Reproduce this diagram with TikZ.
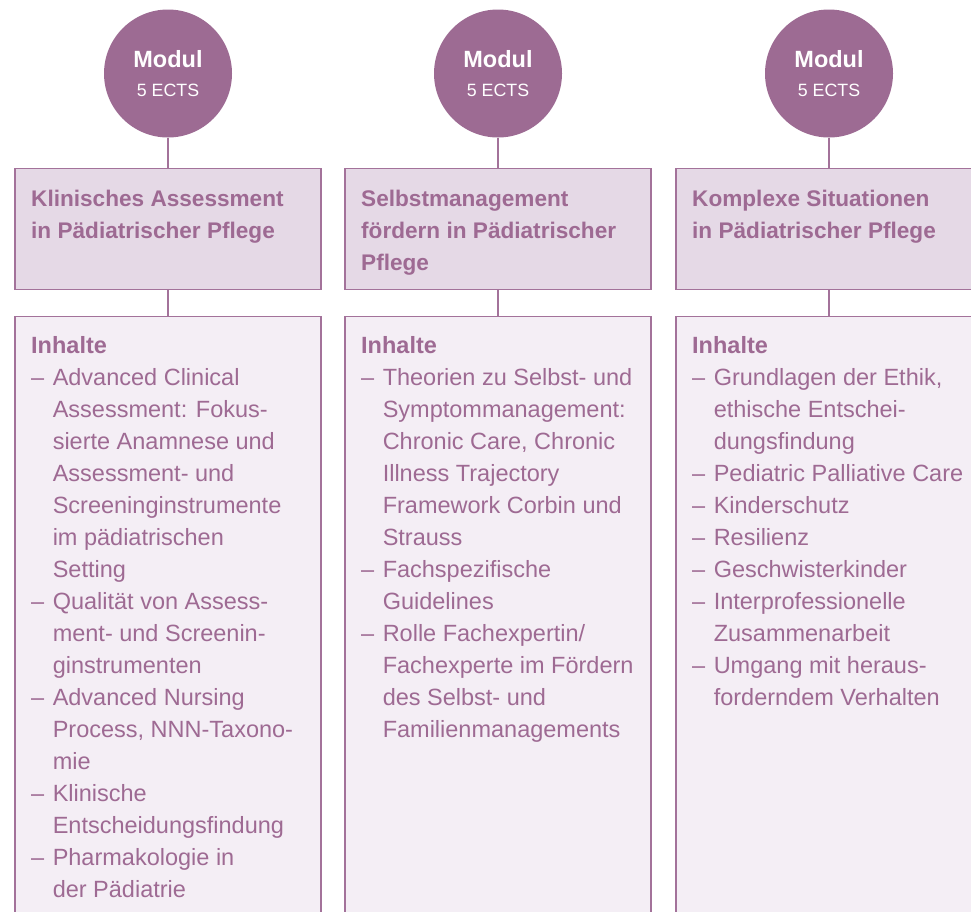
\documentclass[tikz,border=0pt]{standalone}
\usepackage{fontspec}
\setmainfont{Liberation Sans}
\usetikzlibrary{positioning}

\definecolor{modullila}{HTML}{9D6B93}
\definecolor{randlila}{HTML}{A3729A}
\definecolor{titellila}{HTML}{E5D9E6}
\definecolor{inhaltlila}{HTML}{F4EEF5}
\definecolor{textlila}{HTML}{9E6A93}

\tikzset{
  modul/.style={circle, fill=modullila, draw=none, minimum size=128pt, inner sep=0pt, outer sep=0pt,
    text=white, font=\fontsize{23.5}{29}\selectfont},
  titelbox/.style={rectangle, draw=randlila, line width=1.8pt, fill=titellila,
    minimum width=306pt, minimum height=121pt, outer sep=0pt},
  inhaltbox/.style={rectangle, draw=randlila, line width=1.8pt, fill=inhaltlila,
    minimum width=306pt, minimum height=640pt, outer sep=0pt},
  titeltext/.style={anchor=north west, inner sep=0pt, text=textlila,
    font=\bfseries\fontsize{22.6}{32}\selectfont},
  inhalttext/.style={anchor=north west, inner sep=0pt, text=textlila,
    font=\fontsize{23.5}{32}\selectfont},
  verbinder/.style={draw=randlila, line width=1.8pt}
}

\newcommand{\modultext}{\begin{tabular}{@{}c@{}}\rule{0pt}{26pt}\textbf{Modul}\\{\fontsize{17.8}{29}\selectfont 5 ECTS}\end{tabular}}

\begin{document}
\begin{tikzpicture}[x=1pt,y=1pt]
  \useasboundingbox (0,0) rectangle (971,-911);
  \clip (0,0) rectangle (971,-911);

  % Module oben
  \node[modul] (m1) at (168,-73.5) {\modultext};
  \node[modul] (m2) at (498,-73.5) {\modultext};
  \node[modul] (m3) at (829,-73.5) {\modultext};

  % Titel
  \node[titelbox, below=31pt of m1] (t1) {};
  \node[titelbox, below=31pt of m2] (t2) {};
  \node[titelbox, below=31pt of m3] (t3) {};

  % Inhalte
  \node[inhaltbox, below=27pt of t1] (i1) {};
  \node[inhaltbox, below=27pt of t2] (i2) {};
  \node[inhaltbox, below=27pt of t3] (i3) {};

  \draw[verbinder] (m1) -- (t1) (t1) -- (i1);
  \draw[verbinder] (m2) -- (t2) (t2) -- (i2);
  \draw[verbinder] (m3) -- (t3) (t3) -- (i3);

  \node[titeltext] (tt1) at ([xshift=16pt,yshift=-15pt]t1.north west)
    {\begin{tabular}{@{}l@{}}Klinisches Assessment\\in Pädiatrischer Pflege\end{tabular}};
  \node[titeltext] (tt2) at ([xshift=16pt,yshift=-15pt]t2.north west)
    {\begin{tabular}{@{}l@{}}Selbstmanagement\\fördern in Pädiatrischer\\Pflege\end{tabular}};
  \node[titeltext] (tt3) at ([xshift=16pt,yshift=-15pt]t3.north west)
    {\begin{tabular}{@{}l@{}}Komplexe Situationen\\in Pädiatrischer Pflege\end{tabular}};

  \node[inhalttext] (it1) at ([xshift=16pt,yshift=-14.5pt]i1.north west)
    {\begin{tabular}{@{}l@{\hspace{8.5pt}}l@{}}
      \multicolumn{2}{@{}l@{}}{\textbf{Inhalte}}\\
      \textendash & Advanced Clinical\\
       & Assessment: Fokus-\\
       & sierte Anamnese und\\
       & Assessment- und\\
       & Screeninginstrumente\\
       & im pädiatrischen\\
       & Setting\\
      \textendash & Qualität von Assess-\\
       & ment- und Screenin-\\
       & ginstrumenten\\
      \textendash & Advanced Nursing\\
       & Process, NNN-Taxono-\\
       & mie\\
      \textendash & Klinische\\
       & Entscheidungsfindung\\
      \textendash & Pharmakologie in\\
       & der Pädiatrie
    \end{tabular}};
  \node[inhalttext] (it2) at ([xshift=16pt,yshift=-14.5pt]i2.north west)
    {\begin{tabular}{@{}l@{\hspace{8.5pt}}l@{}}
      \multicolumn{2}{@{}l@{}}{\textbf{Inhalte}}\\
      \textendash & Theorien zu Selbst- und\\
       & Symptommanagement:\\
       & Chronic Care, Chronic\\
       & Illness Trajectory\\
       & Framework Corbin und\\
       & Strauss\\
      \textendash & Fachspezifische\\
       & Guidelines\\
      \textendash & Rolle Fachexpertin/\\
       & Fachexperte im Fördern\\
       & des Selbst- und\\
       & Familienmanagements
    \end{tabular}};
  \node[inhalttext] (it3) at ([xshift=16pt,yshift=-14.5pt]i3.north west)
    {\begin{tabular}{@{}l@{\hspace{8.5pt}}l@{}}
      \multicolumn{2}{@{}l@{}}{\textbf{Inhalte}}\\
      \textendash & Grundlagen der Ethik,\\
       & ethische Entschei-\\
       & dungsfindung\\
      \textendash & Pediatric Palliative Care\\
      \textendash & Kinderschutz\\
      \textendash & Resilienz\\
      \textendash & Geschwisterkinder\\
      \textendash & Interprofessionelle\\
       & Zusammenarbeit\\
      \textendash & Umgang mit heraus-\\
       & forderndem Verhalten
    \end{tabular}};
\end{tikzpicture}
\end{document}
